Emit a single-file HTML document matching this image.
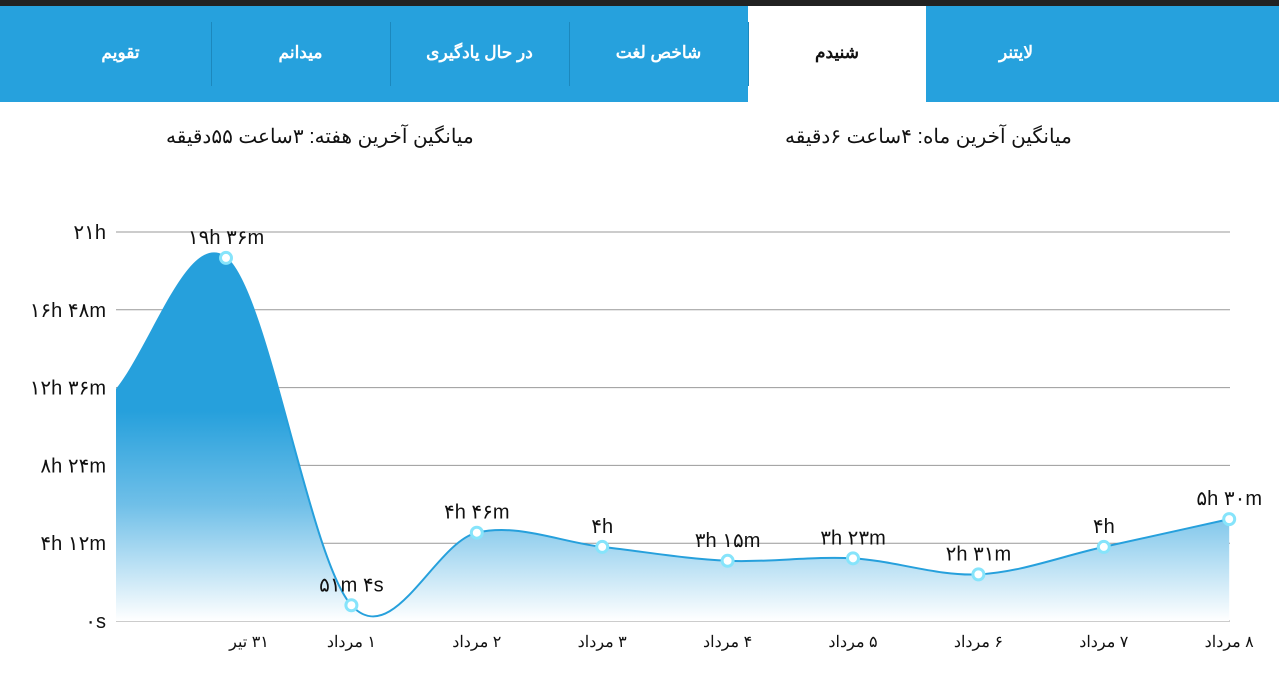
<!DOCTYPE html>
<html><head><meta charset="utf-8"><style>
html,body{margin:0;padding:0;width:1279px;height:676px;overflow:hidden;background:#fff;font-family:"Liberation Sans","Noto Sans CJK SC",sans-serif}
#top{position:absolute;left:0;top:0;width:1279px;height:6px;background:#222}
#nav{position:absolute;left:0;top:6px;width:1279px;height:96px;background:#26a1dd}
.tab{position:absolute;top:0;height:96px;line-height:94px;text-align:center;color:#fff;font-weight:bold;font-size:17px}
.div{position:absolute;top:16px;width:1px;height:64px;background:#1c88bd}
.avg{position:absolute;top:124px;font-size:20px;color:#111;direction:rtl;white-space:nowrap}
</style></head><body>
<div id="top"></div>
<div id="nav">
<div class="tab" style="left:926px;width:180px">لایتنر</div>
<div class="tab" style="left:748px;width:178px;background:#fff;color:#111">شنیدم</div>
<div class="tab" style="left:569px;width:179px">شاخص لغت</div>
<div class="tab" style="left:390px;width:179px">در حال یادگیری</div>
<div class="tab" style="left:211px;width:179px">میدانم</div>
<div class="tab" style="left:30px;width:181px">تقویم</div>
<div class="div" style="left:211px"></div>
<div class="div" style="left:390px"></div>
<div class="div" style="left:569px"></div>
<div class="div" style="left:748px"></div>
</div>
<div class="avg" style="left:785px">میانگین آخرین ماه: ۴ساعت  ۶دقیقه</div>
<div class="avg" style="left:166px">میانگین آخرین هفته: ۳ساعت  ۵۵دقیقه</div>
<svg id="chart" width="1279" height="676" style="position:absolute;left:0;top:0">
<defs>
<linearGradient id="g" gradientUnits="userSpaceOnUse" x1="0" y1="232" x2="0" y2="621">
<stop offset="0" stop-color="#26a0dc"/><stop offset="0.46" stop-color="#26a0dc"/><stop offset="0.7" stop-color="#6fbfe8"/><stop offset="1" stop-color="#ffffff"/>
</linearGradient>
<clipPath id="clip"><rect x="116" y="150" width="1114" height="480"/></clipPath>
</defs>
</svg>
<script>
const categories=["۳۱ تیر","۱ مرداد","۲ مرداد","۳ مرداد","۴ مرداد","۵ مرداد","۶ مرداد","۷ مرداد","۸ مرداد"];
const values=[1176,51,286,240,195,203,151,240,330];
const valueLabels=["۱۹h ۳۶m","۵۱m ۴s","۴h ۴۶m","۴h","۳h ۱۵m","۳h ۲۳m","۲h ۳۱m","۴h","۵h ۳۰m"];
const tickValues=[0,252,504,756,1008,1260];
const tickLabels=["۰s","۴h ۱۲m","۸h ۲۴m","۱۲h ۳۶m","۱۶h ۴۸m","۲۱h"];
const prevValue=700;
const NS="http://www.w3.org/2000/svg";
const svg=document.getElementById('chart');
const y0=621,y1=232,yMax=1260;
function y(v){return y0-(v/yMax)*(y0-y1);}
function x(i){return 226+i*125.4;}
function mk(t,a){const e=document.createElementNS(NS,t);for(const k in a)e.setAttribute(k,a[k]);svg.appendChild(e);return e;}
tickValues.forEach((v,i)=>{
 const l=mk('line',{x1:116,x2:1230,y1:y(v),y2:y(v),stroke:'#999','stroke-width':1});
 
 
 const t=mk('text',{x:106,y:y(v)+7,'text-anchor':'end','font-size':20,fill:'#111'});
 t.textContent=tickLabels[i];
 
 
});
const pts=[[x(-1),y(prevValue)]].concat(values.map((v,i)=>[x(i),y(v)]));
pts.push([x(values.length),y(values[values.length-1]+90)]);
let d='M'+pts[1][0]+','+pts[1][1];
let dl='M'+pts[0][0]+','+pts[0][1];
function seg(i){const p0=pts[i-1],p1=pts[i],p2=pts[i+1],p3=pts[i+2];
 return ' C'+(p1[0]+(p2[0]-p0[0])/6)+','+(p1[1]+(p2[1]-p0[1])/6)+' '+(p2[0]-(p3[0]-p1[0])/6)+','+(p2[1]-(p3[1]-p1[1])/6)+' '+p2[0]+','+p2[1];}
// leading segment from phantom point
const pm=[x(-2),y(prevValue)];
const a=pts[0],b=pts[1],c=pts[2];
dl+=' C'+(a[0]+(b[0]-pm[0])/6)+','+(a[1]+(b[1]-pm[1])/6)+' '+(b[0]-(c[0]-a[0])/6)+','+(b[1]-(c[1]-a[1])/6)+' '+b[0]+','+b[1];
for(let i=1;i<pts.length-2;i++)dl+=seg(i);
const area=mk('path',{d:dl+' L'+x(values.length-1)+','+y0+' L'+x(-1)+','+y0+' Z',fill:'url(#g)','clip-path':'url(#clip)'});


const line=mk('path',{d:dl,fill:'none',stroke:'#26a0dc','stroke-width':2,'clip-path':'url(#clip)'});


values.forEach((v,i)=>{
 const c=mk('circle',{cx:x(i),cy:y(v),r:5.5,fill:'#fff',stroke:'#86e4fb','stroke-width':3});
 
 
 const t=mk('text',{x:x(i),y:y(v)-14,'text-anchor':'middle','font-size':20,fill:'#111'});
 t.textContent=valueLabels[i];
 
 
 const xl=mk('text',{x:x(i)+(i===0?23:0),y:647,'text-anchor':'middle','font-size':16,fill:'#111',direction:'rtl'});
 xl.setAttribute('text-anchor','middle');
 xl.textContent=categories[i];
 
 
});
</script>
</body></html>
